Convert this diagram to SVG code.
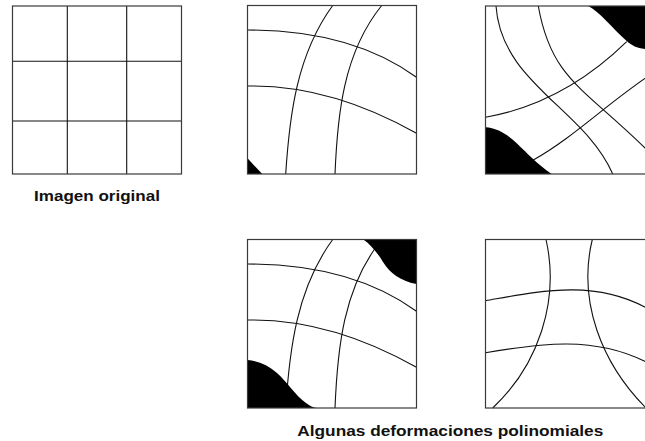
<svg xmlns="http://www.w3.org/2000/svg" width="645" height="441" viewBox="0 0 645 441">
  <style>
    .bg{fill:#fff;stroke:none}
    .frame{fill:none;stroke:#3a3a3a;stroke-width:1.2}
    .ln{fill:none;stroke:#111;stroke-width:1.1}
    .blob{fill:#000;stroke:none}
    .lbl{font-family:"Liberation Sans",Arial,Helvetica,sans-serif;font-weight:bold;font-size:15px;fill:#111}
  </style>
  <defs>
    <g id="warp-a">
      <path class="ln" d="M247.5,30 C306.9,30 367.6,41.9 416.5,77.3"/>
      <path class="ln" d="M247.5,86 C307.7,85 364.7,104 416.5,133.3"/>
      <path class="ln" d="M332.7,5.5 C296.8,54.6 289.5,115 285.7,174"/>
      <path class="ln" d="M381.7,5.5 C343.2,53.2 337.4,115 335,174"/>
    </g>
  </defs>
  <rect width="645" height="441" fill="#fff"/>

  <g id="panel-original">
    <rect class="bg" x="12.5" y="6" width="169" height="168"/>
    <line class="ln" x1="67.3" y1="6" x2="67.3" y2="174"/>
    <line class="ln" x1="126.7" y1="6" x2="126.7" y2="174"/>
    <line class="ln" x1="12.5" y1="61.3" x2="181.5" y2="61.3"/>
    <line class="ln" x1="12.5" y1="121" x2="181.5" y2="121"/>
    <rect class="frame" x="12.5" y="6" width="169" height="168"/>
  </g>

  <g id="panel-warp-1">
    <rect class="bg" x="247.5" y="5.5" width="169" height="168.5"/>
    <use href="#warp-a"/>
    <path class="blob" d="M247.5,158.3 Q255,166.5 262.3,174 L247.5,174 Z"/>
    <rect class="frame" x="247.5" y="5.5" width="169" height="168.5"/>
  </g>

  <g id="panel-warp-2">
    <rect class="bg" x="485.5" y="6" width="170" height="168"/>
    <path class="ln" d="M496,6 C501.3,83.3 584.8,109.2 612.7,174"/>
    <path class="ln" d="M538.3,6 C551.4,80.7 586.2,88.9 650,153"/>
    <path class="ln" d="M485.5,117.3 C539.8,107.7 587.7,79.8 626.7,41.7"/>
    <path class="ln" d="M533.3,160 C573.7,137.3 606.7,103.9 650,75"/>
    <path class="blob" d="M588.3,6 C600,12 612,28 626.7,41 C634,47.5 640,49.3 656,49.5 L656,6 Z"/>
    <path class="blob" d="M485.5,127.3 C497,128 507,134 517,143.5 C527,153 537,164 551.7,174 L485.5,174 Z"/>
    <rect class="frame" x="485.5" y="6" width="170" height="168"/>
  </g>

  <g id="panel-warp-3">
    <rect class="bg" x="247.5" y="239.5" width="169" height="168.5"/>
    <use href="#warp-a" transform="translate(0,234)"/>
    <path class="blob" d="M363.3,239.5 C370,244 377,252 383,262 C390,273 400,281 416.5,284 L416.5,239.5 Z"/>
    <path class="blob" d="M247.5,360 C258,361 268,365 277,373 C287,382 296,396 306,403 C310,406 313,407.5 317,408 L247.5,408 Z"/>
    <rect class="frame" x="247.5" y="239.5" width="169" height="168.5"/>
  </g>

  <g id="panel-warp-4">
    <rect class="bg" x="485.5" y="239.5" width="170" height="168.5"/>
    <path class="ln" d="M546,239.5 C559.9,300.9 538.4,365.2 492.7,408"/>
    <path class="ln" d="M592.3,239.5 C577.6,300.2 600.3,364.1 650,412"/>
    <path class="ln" d="M485.5,300.7 C538,291.5 595.7,278.1 650,310"/>
    <path class="ln" d="M485.5,352.7 C537.9,343.8 596,334.5 650,364"/>
    <rect class="frame" x="485.5" y="239.5" width="170" height="168.5"/>
  </g>

  <g id="labels">
    <text class="lbl" x="34" y="200.7" textLength="126" lengthAdjust="spacingAndGlyphs">Imagen original</text>
    <text class="lbl" x="297.3" y="435.5" textLength="306" lengthAdjust="spacingAndGlyphs">Algunas deformaciones polinomiales</text>
  </g>
</svg>
